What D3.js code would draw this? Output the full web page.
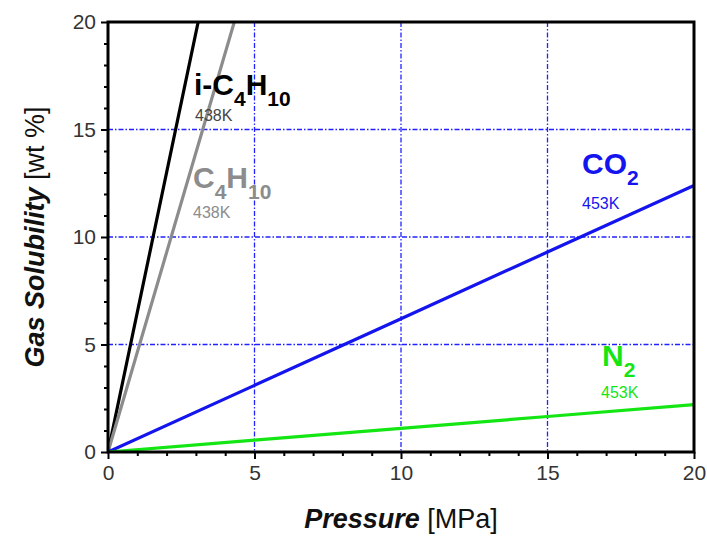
<!DOCTYPE html>
<html><head><meta charset="utf-8">
<script src="https://cdn.jsdelivr.net/npm/d3@7"></script>
<style>body{margin:0;background:#fff}svg{display:block}text{font-family:"Liberation Sans",Arial,sans-serif}</style>
</head><body>
<svg id="c" width="707" height="538"></svg>
<script>
const xTicks = [0, 5, 10, 15, 20];
const yTicks = [0, 5, 10, 15, 20];
const pressure = [0, 5, 10, 15, 20];
const iC4H10 = [0, 32.5, 65, 97.5, 130];
const C4H10 = [0, 23.2, 46.4, 69.6, 92.8];
const CO2 = [0, 3.1, 6.2, 9.3, 12.4];
const N2 = [0, 0.55, 1.1, 1.65, 2.2];
const seriesNames = ["i-C4H10", "C4H10", "CO2", "N2"];
const seriesColors = ["#000000", "#8c8c8c", "#1414ee", "#14e614"];
const tempColors = ["#444444", "#8c8c8c", "#1414ee", "#14e614"];

const svg = d3.select("#c");
const L = 108, R = 694, T = 22, B = 452;
const x = d3.scaleLinear().domain([0, 20]).range([L, R]);
const y = d3.scaleLinear().domain([0, 20]).range([B, T]);

// grid
const g = svg.append("g");
[5, 10, 15].forEach(v => {
  g.append("line").attr("x1", x(v)).attr("x2", x(v)).attr("y1", T).attr("y2", B)
    .attr("stroke", "#2222ff").attr("stroke-width", 1.3).attr("stroke-dasharray", "5,2,1.5,2");
  g.append("line").attr("x1", L).attr("x2", R).attr("y1", y(v)).attr("y2", y(v))
    .attr("stroke", "#2222ff").attr("stroke-width", 1.3).attr("stroke-dasharray", "5,2,1.5,2");
});

// clip
svg.append("clipPath").attr("id", "clip").append("rect")
  .attr("x", L).attr("y", T).attr("width", R - L).attr("height", B - T);

const allSeries = [iC4H10, C4H10, CO2, N2];
const line = d3.line().x((d, i) => x(pressure[i])).y(d => y(d));
allSeries.forEach((s, k) => {
  svg.append("path").attr("clip-path", "url(#clip)").datum(s).attr("d", line)
    .attr("fill", "none").attr("stroke", seriesColors[k]).attr("stroke-width", 3.2);
});

// axes
const xAxis = d3.axisBottom(x).tickValues(xTicks).tickSize(7).tickPadding(6).tickFormat(d3.format("d"));
const yAxis = d3.axisLeft(y).tickValues(yTicks).tickSize(7).tickPadding(5).tickFormat(d3.format("d"));
const xMinor = d3.axisBottom(x).tickValues(d3.range(0, 21, 1).filter(v => v % 5)).tickSize(4).tickFormat("");
const yMinor = d3.axisLeft(y).tickValues(d3.range(0, 21, 1).filter(v => v % 5)).tickSize(4).tickFormat("");
function style(sel) {
  sel.select(".domain").remove();
  sel.selectAll("line").attr("stroke", "#000").attr("stroke-width", 2);
  sel.selectAll("text").attr("fill", "#333").style("font-size", "21px");
}
svg.append("g").attr("transform", `translate(0,${B})`).call(xAxis).call(style);
svg.append("g").attr("transform", `translate(${L},0)`).call(yAxis).call(style);
svg.append("g").attr("transform", `translate(0,${B})`).call(xMinor).call(style);
svg.append("g").attr("transform", `translate(${L},0)`).call(yMinor).call(style);

// frame
svg.append("rect").attr("x", L).attr("y", T).attr("width", R - L).attr("height", B - T)
  .attr("fill", "none").attr("stroke", "#000").attr("stroke-width", 3);

// axis titles
const xt = svg.append("text").attr("x", (L + R) / 2).attr("y", 528).attr("text-anchor", "middle")
  .style("font-size", "27px").attr("fill", "#111");
xt.append("tspan").text("Pressure").style("font-weight", "bold").style("font-style", "italic");
xt.append("tspan").text(" [MPa]");
const yt = svg.append("text").attr("transform", `translate(44,${(T + B) / 2}) rotate(-90)`)
  .attr("text-anchor", "middle").style("font-size", "27px").attr("fill", "#111");
yt.append("tspan").text("Gas Solubility").style("font-weight", "bold").style("font-style", "italic");
yt.append("tspan").text(" [wt %]");

// series labels
function formula(px, py, parts, k, size, temp, tx, ty) {
  const t = svg.append("text").attr("x", px).attr("y", py).attr("fill", seriesColors[k])
    .style("font-size", size + "px").style("font-weight", "bold");
  parts.forEach(p => {
    if (p.sub) t.append("tspan").text(p.t).attr("dy", size * 0.38).style("font-size", (size * 0.7) + "px");
    else t.append("tspan").text(p.t).attr("dy", p.after ? -size * 0.38 : 0);
  });
  svg.append("text").attr("x", tx).attr("y", ty).attr("fill", tempColors[k]).style("font-size", "16px").text(temp);
}
formula(194, 95, [{t: "i-C"}, {t: "4", sub: true}, {t: "H", after: true}, {t: "10", sub: true}], 0, 30, "438K", 195, 121);
formula(193, 188, [{t: "C"}, {t: "4", sub: true}, {t: "H", after: true}, {t: "10", sub: true}], 1, 30, "438K", 193, 218);
formula(582, 174, [{t: "CO"}, {t: "2", sub: true}], 2, 30, "453K", 582, 209);
formula(602, 366, [{t: "N"}, {t: "2", sub: true}], 3, 30, "453K", 601, 398);
</script>
</body></html>
